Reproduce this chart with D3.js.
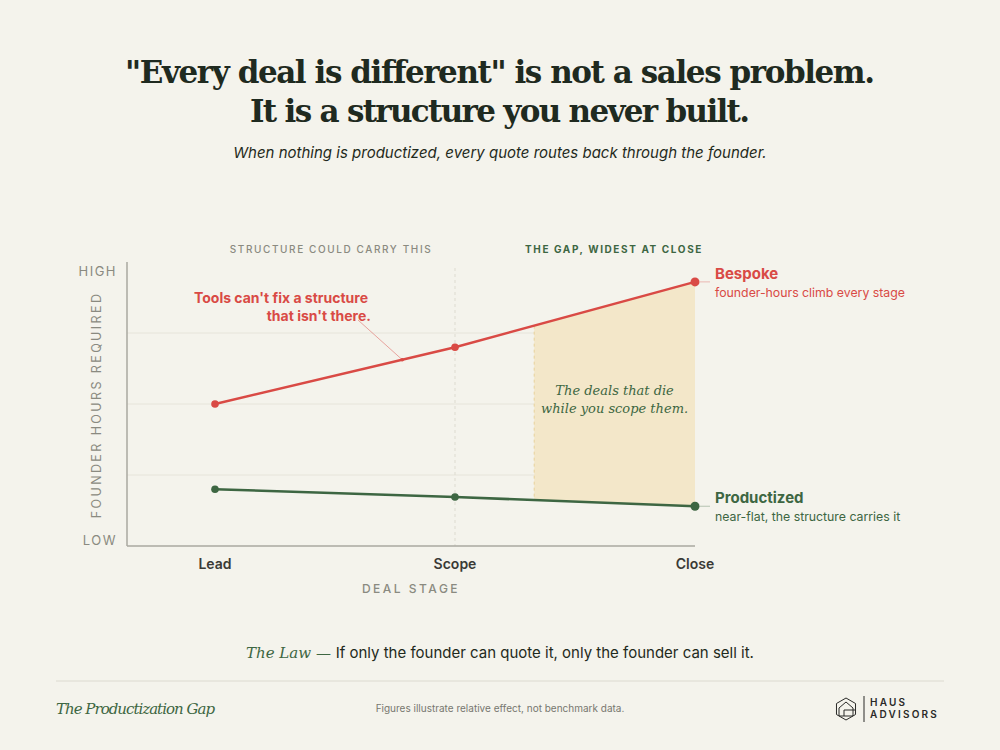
<!DOCTYPE html>
<html>
<head>
<meta charset="utf-8">
<script src="https://cdn.jsdelivr.net/npm/d3@7"></script>
<style>
  body { margin: 0; background: #f4f3ec; }
  svg { display: block; }
</style>
</head>
<body>
<svg id="chart" width="1000" height="750"></svg>
<script>
const stages = ["Lead", "Scope", "Close"];
const bespoke = [2.0, 2.8, 3.72];
const productized = [0.8, 0.69, 0.56];
const gapStart = 1.33; // stage index where the shaded gap begins

const red = "#d94a45", green = "#3d6642", ink = "#1f2a20", grey = "#8a8a80";
const sans = "Inter, 'Noto Sans', sans-serif";
const serif = "'DejaVu Serif', 'Liberation Serif', serif";

const svg = d3.select("#chart");
svg.append("rect").attr("width", 1000).attr("height", 750).attr("fill", "#f4f3ec");

// header
svg.append("text").attr("x", 500).attr("y", 83).attr("text-anchor", "middle")
  .attr("font-family", serif).attr("font-weight", "bold").attr("font-size", 31)
  .attr("fill", ink).attr("textLength", 750)
  .text("\"Every deal is different\" is not a sales problem.");
svg.append("text").attr("x", 500).attr("y", 122).attr("text-anchor", "middle")
  .attr("font-family", serif).attr("font-weight", "bold").attr("font-size", 31)
  .attr("fill", ink).attr("textLength", 500)
  .text("It is a structure you never built.");
svg.append("text").attr("x", 500).attr("y", 158).attr("text-anchor", "middle")
  .attr("font-family", sans).attr("font-style", "italic").attr("font-size", 15)
  .attr("fill", ink)
  .text("When nothing is productized, every quote routes back through the founder.");

const x = d3.scaleLinear().domain([0, stages.length - 1]).range([215, 695]);
const y = d3.scaleLinear().domain([0, 4]).range([546, 262]);
const g = svg.append("g");

// grid
g.selectAll(".grid").data([1, 2, 3]).enter().append("line")
  .attr("x1", 127).attr("x2", 695).attr("y1", d => y(d)).attr("y2", d => y(d))
  .attr("stroke", "#e6e4da").attr("stroke-width", 1);

// gap area
const interp = (arr, t) => {
  if (t >= arr.length - 1) return arr[arr.length - 1];
  const i = Math.floor(t), f = t - i;
  return arr[i] + (arr[i + 1] - arr[i]) * f;
};
g.append("path").datum([gapStart, 2]).attr("d", d3.area().x(d => x(d))
  .y0(d => y(interp(productized, d)))
  .y1(d => y(interp(bespoke, d))))
  .attr("fill", "#f3e7c9");
g.append("line").attr("x1", x(gapStart)).attr("x2", x(gapStart))
  .attr("y1", y(interp(bespoke, gapStart))).attr("y2", y(interp(productized, gapStart)))
  .attr("stroke", "#e8d29c").attr("stroke-dasharray", "3,3");

// scope dashed
g.append("line").attr("x1", x(1)).attr("x2", x(1)).attr("y1", 268).attr("y2", 546)
  .attr("stroke", "#dddbd0").attr("stroke-dasharray", "3,3");

// axes
g.append("line").attr("x1", 127).attr("x2", 127).attr("y1", 262).attr("y2", 546).attr("stroke", "#aaa9a0").attr("stroke-width", 1.5);
g.append("line").attr("x1", 127).attr("x2", 695).attr("y1", 546).attr("y2", 546).attr("stroke", "#aaa9a0").attr("stroke-width", 1.5);

const yTicks = [{ v: 4, t: "HIGH" }, { v: 0, t: "LOW" }];
g.selectAll(".yt").data(yTicks).enter().append("text")
  .attr("x", 117).attr("y", d => y(d.v) + (d.v ? 14 : -1)).attr("text-anchor", "end")
  .attr("font-family", sans).attr("font-size", 13).attr("letter-spacing", 1.5).attr("fill", grey)
  .text(d => d.t);
g.append("text").attr("transform", "translate(101,405) rotate(-90)").attr("text-anchor", "middle")
  .attr("font-family", sans).attr("font-size", 12.5).attr("letter-spacing", 2.4).attr("fill", grey)
  .text("FOUNDER HOURS REQUIRED");

g.selectAll(".xt").data(stages).enter().append("text")
  .attr("x", (d, i) => x(i)).attr("y", 569).attr("text-anchor", "middle")
  .attr("font-family", sans).attr("font-weight", 600).attr("font-size", 14).attr("fill", "#3a3a36")
  .text(d => d);
g.append("text").attr("x", 411).attr("y", 593).attr("text-anchor", "middle")
  .attr("font-family", sans).attr("font-weight", 500).attr("font-size", 12).attr("letter-spacing", 2.5).attr("fill", grey)
  .text("DEAL STAGE");

// lines
const line = d3.line().x((d, i) => x(i)).y(d => y(d));
[[bespoke, red], [productized, green]].forEach(([data, c]) => {
  g.append("path").datum(data).attr("d", line).attr("fill", "none").attr("stroke", c).attr("stroke-width", 2.5);
  g.selectAll(null).data(data).enter().append("circle")
    .attr("cx", (d, i) => x(i)).attr("cy", d => y(d)).attr("r", (d, i) => i === 2 ? 4.5 : 3.8).attr("fill", c);
});

// top labels
svg.append("text").attr("x", 331).attr("y", 253).attr("text-anchor", "middle")
  .attr("font-family", sans).attr("font-weight", 500).attr("font-size", 10).attr("letter-spacing", 1.6).attr("fill", grey)
  .text("STRUCTURE COULD CARRY THIS");
svg.append("text").attr("x", 614).attr("y", 253).attr("text-anchor", "middle")
  .attr("font-family", sans).attr("font-weight", 700).attr("font-size", 10).attr("letter-spacing", 1.6).attr("fill", green)
  .text("THE GAP, WIDEST AT CLOSE");

// annotation
const annT = 0.78;
g.append("line").attr("x1", 358).attr("y1", 320).attr("x2", x(annT)).attr("y2", y(interp(bespoke, annT)))
  .attr("stroke", red).attr("stroke-opacity", 0.6).attr("stroke-width", 0.8);
g.append("circle").attr("cx", x(annT)).attr("cy", y(interp(bespoke, annT))).attr("r", 1.8).attr("fill", red);
svg.append("text").attr("x", 368).attr("y", 303).attr("text-anchor", "end")
  .attr("font-family", sans).attr("font-weight", 700).attr("font-size", 14).attr("fill", red)
  .text("Tools can't fix a structure");
svg.append("text").attr("x", 371).attr("y", 321).attr("text-anchor", "end")
  .attr("font-family", sans).attr("font-weight", 700).attr("font-size", 14).attr("fill", red)
  .text("that isn't there.");

const gapMid = x((gapStart + 2) / 2);
svg.append("text").attr("x", gapMid).attr("y", 395).attr("text-anchor", "middle")
  .attr("font-family", serif).attr("font-style", "italic").attr("font-size", 13).attr("fill", green)
  .text("The deals that die");
svg.append("text").attr("x", gapMid).attr("y", 413).attr("text-anchor", "middle")
  .attr("font-family", serif).attr("font-style", "italic").attr("font-size", 13).attr("fill", green)
  .text("while you scope them.");

// end labels
const ends = [
  { v: bespoke[2], c: red, t: "Bespoke", s: "founder-hours climb every stage" },
  { v: productized[2], c: green, t: "Productized", s: "near-flat, the structure carries it" },
];
ends.forEach(e => {
  const yy = y(e.v);
  g.append("line").attr("x1", 700).attr("x2", 710).attr("y1", yy).attr("y2", yy).attr("stroke", e.c).attr("stroke-opacity", 0.35);
  svg.append("text").attr("x", 715).attr("y", yy - 3).attr("font-family", sans).attr("font-weight", 700)
    .attr("font-size", 15).attr("fill", e.c).text(e.t);
  svg.append("text").attr("x", 715).attr("y", yy + 15).attr("font-family", sans)
    .attr("font-size", 12.3).attr("fill", e.c).text(e.s);
});

// law
const law = svg.append("text").attr("x", 500).attr("y", 658).attr("text-anchor", "middle");
law.append("tspan").attr("font-family", serif).attr("font-style", "italic").attr("font-size", 15).attr("fill", green).text("The Law — ");
law.append("tspan").attr("font-family", sans).attr("font-size", 15).attr("fill", ink).text(" If only the founder can quote it, only the founder can sell it.");

// footer
svg.append("line").attr("x1", 56).attr("x2", 944).attr("y1", 681).attr("y2", 681).attr("stroke", "#dcdad0");
svg.append("text").attr("x", 56).attr("y", 714).attr("font-family", serif).attr("font-style", "italic")
  .attr("font-size", 15).attr("textLength", 159).attr("fill", green).text("The Productization Gap");
svg.append("text").attr("x", 500).attr("y", 712).attr("text-anchor", "middle").attr("font-family", sans)
  .attr("font-size", 10).attr("fill", "#77776f").text("Figures illustrate relative effect, not benchmark data.");

// logo
const logo = svg.append("g").attr("transform", "translate(846,709)").attr("fill", "none").attr("stroke", "#2a2a28").attr("stroke-width", 1);
const hex = d3.range(6).map(i => [11 * Math.cos(Math.PI / 3 * i + Math.PI / 6), 11 * Math.sin(Math.PI / 3 * i + Math.PI / 6)]);
logo.append("polygon").attr("points", hex.map(p => p.join(",")).join(" "));
logo.append("path").attr("d", "M-7,-1 L0,-7 L7,-1 L7,7 L-7,7 Z M-2,7 L-2,1 L9,1");
svg.append("line").attr("x1", 864).attr("x2", 864).attr("y1", 696).attr("y2", 722).attr("stroke", "#2a2a28");
svg.append("text").attr("x", 870).attr("y", 706).attr("font-family", sans).attr("font-weight", 600)
  .attr("font-size", 10).attr("letter-spacing", 2.2).attr("fill", "#2a2a28").text("HAUS");
svg.append("text").attr("x", 870).attr("y", 718).attr("font-family", sans).attr("font-weight", 600)
  .attr("font-size", 10).attr("letter-spacing", 2.2).attr("fill", "#2a2a28").text("ADVISORS");
</script>
</body>
</html>
